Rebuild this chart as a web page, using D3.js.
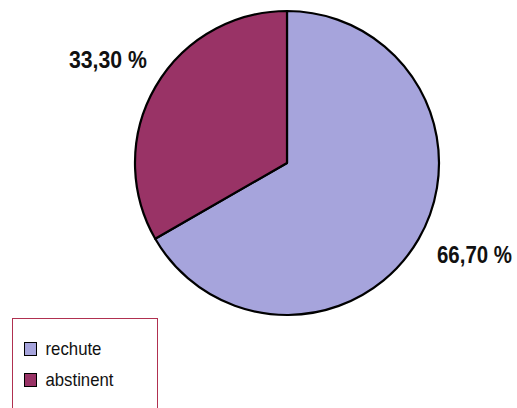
<!DOCTYPE html>
<html><head><meta charset="utf-8">
<script src="https://cdn.jsdelivr.net/npm/d3@7"></script>
<style>body{margin:0;background:#fff}svg{display:block}</style>
</head><body>
<svg id="c" width="517" height="408"></svg>
<script>
const categories = ["rechute", "abstinent"];
const values = [66.7, 33.3];
const labels = ["66,70 %", "33,30 %"];
const colors = ["#a6a4dc", "#993366"];

const svg = d3.select("#c");
const cx = 287, cy = 163, r = 152;
const pie = d3.pie().sort(null).startAngle(0).endAngle(2*Math.PI)(values);
const arc = d3.arc().innerRadius(0).outerRadius(r);
const g = svg.append("g").attr("transform", `translate(${cx},${cy})`);
g.selectAll("path").data(pie).enter().append("path")
  .attr("d", arc).attr("fill", (d,i)=>colors[i])
  .attr("stroke", "#000").attr("stroke-width", 2.2).attr("stroke-linejoin","round");

const font = "'Liberation Sans Narrow','Arial Narrow','Liberation Sans',sans-serif";

// condense a text to a target width with a horizontal scale
function fit(sel, x, y, w) {
  sel.attr("x", 0).attr("y", 0);
  const len = sel.node().getComputedTextLength();
  const s = Math.min(1, w / len);
  sel.attr("transform", `translate(${x},${y}) scale(${s},1)`);
}

const labelPos = [[437, 263, 75], [69, 68, 78]];
svg.selectAll("text.lab").data(labels).enter().append("text")
  .attr("class","lab")
  .attr("font-family", font).attr("font-weight","bold").attr("font-size", 23)
  .attr("fill","#111").text(d=>d)
  .each(function(d,i){ fit(d3.select(this), ...labelPos[i]); });

// legend
svg.append("rect").attr("x",12.5).attr("y",318.5).attr("width",145).attr("height",100)
  .attr("fill","none").attr("stroke","#b03050").attr("stroke-width",1);
const legLen = [56, 68];
const lg = svg.selectAll("g.leg").data(categories).enter().append("g")
  .attr("transform",(d,i)=>`translate(24,${342 + i*31})`);
lg.append("rect").attr("x",0.5).attr("y",0.5).attr("width",12).attr("height",13)
  .attr("fill",(d,i)=>colors[i]).attr("stroke","#000").attr("stroke-width",1);
lg.append("text").attr("font-family",font)
  .attr("font-size",18).attr("fill","#111").text(d=>d)
  .each(function(d,i){ fit(d3.select(this), 21.5, 13, legLen[i]); });
</script>
</body></html>
